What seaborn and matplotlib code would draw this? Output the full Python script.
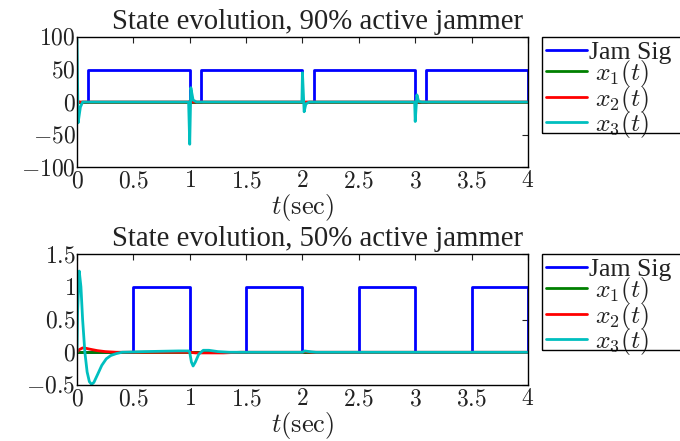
import matplotlib
matplotlib.use("Agg")
import matplotlib.pyplot as plt
from matplotlib.patches import Rectangle
import seaborn as sns

# ---- data ----
# top panel: 90% active jammer
jam90_t = [0, 0.1, 1.0, 1.1, 2.0, 2.1, 3.0, 3.1, 4.0, 4.0]
jam90_v = [0, 50, 0, 50, 0, 50, 0, 50, 0, 0]

x1_90_t = [0, 4]
x1_90_v = [0, 0]

x2_90_t = [0, 0.005, 0.02, 0.99, 1.005, 1.02, 4]
x2_90_v = [0, 2, 0, 0, 1.5, 0, 0]

x3_90_t = [0, 0.01, 0.03, 0.05, 0.99, 1.0, 1.01, 1.03, 1.06,
           1.995, 2.0, 2.015, 2.03, 2.06, 2.995, 3.0, 3.015, 3.03, 3.06, 4]
x3_90_v = [97, -32, -8, 0, 0, -65, 22, 3, 0,
           0, 45, -15, -3, 0, 0, -30, 11, 1, 0, 0]

# bottom panel: 50% active jammer
jam50_t = [0, 0.5, 1.0, 1.5, 2.0, 2.5, 3.0, 3.5, 4.0, 4.0]
jam50_v = [0, 1, 0, 1, 0, 1, 0, 1, 0, 0]

x1_50_t = [0, 4]
x1_50_v = [0, 0]

x2_50_t = [0, 0.02, 0.05, 0.08, 0.12, 0.18, 0.25, 0.35, 1.0, 1.05,
           1.3, 1.45, 2.0, 2.02, 2.08, 4]
x2_50_v = [0, 0.04, 0.066, 0.06, 0.045, 0.025, 0.01, 0, 0, -0.01,
           -0.01, 0, 0, 0.01, 0, 0]

x3_50_t = [0, 0.005, 0.02, 0.035, 0.05, 0.07, 0.09, 0.11, 0.13, 0.15,
           0.18, 0.22, 0.26, 0.3, 0.35, 0.4, 0.6, 0.9, 0.99, 1.0, 1.015,
           1.03, 1.05, 1.08, 1.12, 1.17, 1.25, 1.35, 2.0, 2.02, 2.06,
           2.12, 4]
x3_50_v = [0, 0.6, 1.24, 1.0, 0.5, 0.0, -0.3, -0.45, -0.49, -0.46,
           -0.35, -0.2, -0.1, -0.05, -0.02, 0, 0.01, 0.02, 0.02, 0, -0.15,
           -0.21, -0.15, -0.03, 0.03, 0.03, 0.01, 0, 0, 0.02, 0.01,
           0, 0]

titles = ["State evolution, 90% active jammer",
          "State evolution, 50% active jammer"]
labels = ["Jam Sig", r"$\;x_1(t)$", r"$\;x_2(t)$", r"$\;x_3(t)$"]
colors = ["#0000ff", "#008000", "#ff0000", "#00bfbf"]

xticks = [0, 0.5, 1, 1.5, 2, 2.5, 3, 3.5, 4]
xticklabels = ["$0$", "$0.5$", "$1$", "$1.5$", "$2$", "$2.5$", "$3$",
               "$3.5$", "$4$"]
yticks_90 = [-100, -50, 0, 50, 100]
yticklabels_90 = ["$-100$", "$-50$", "$0$", "$50$", "$100$"]
yticks_50 = [-0.5, 0, 0.5, 1, 1.5]
yticklabels_50 = ["$-0.5$", "$0$", "$0.5$", "$1$", "$1.5$"]

sns.set_style("white")
plt.rcParams["font.family"] = ["Liberation Serif", "DejaVu Serif"]
plt.rcParams["mathtext.fontset"] = "cm"
plt.rcParams["xtick.direction"] = "in"
plt.rcParams["ytick.direction"] = "in"
plt.rcParams["xtick.top"] = True
plt.rcParams["ytick.right"] = True

fig = plt.figure(figsize=(6.8, 4.41), dpi=100)
ax1 = fig.add_axes([0.1132, 0.6213, 0.6632, 0.2948])
ax2 = fig.add_axes([0.1132, 0.1270, 0.6632, 0.2970])

panels = [
    (ax1, [(jam90_t, jam90_v), (x1_90_t, x1_90_v), (x2_90_t, x2_90_v),
           (x3_90_t, x3_90_v)], (-100, 100), yticks_90, yticklabels_90),
    (ax2, [(jam50_t, jam50_v), (x1_50_t, x1_50_v), (x2_50_t, x2_50_v),
           (x3_50_t, x3_50_v)], (-0.5, 1.5), yticks_50, yticklabels_50),
]

# legend frames (MATLAB style boxes running off the right edge)
legend_boxes = [(0.797, 0.6984, 0.2177), (0.797, 0.2063, 0.2177)]

for i, (ax, series, ylim, yt, ytl) in enumerate(panels):
    for j, (t, v) in enumerate(series):
        kw = {"drawstyle": "steps-post"} if j == 0 else {}
        sns.lineplot(x=t, y=v, ax=ax, color=colors[j], lw=2,
                     estimator=None, sort=False, label=labels[j], **kw)
    ax.set_xlim(0, 4)
    ax.set_ylim(*ylim)
    ax.set_xticks(xticks)
    ax.set_xticklabels(xticklabels)
    ax.set_yticks(yt)
    ax.set_yticklabels(ytl)
    ax.tick_params(labelsize=17, length=4, width=0.8, colors="#222222")
    ax.tick_params(axis="y", pad=1)
    ax.tick_params(axis="x", pad=3)
    for s in ax.spines.values():
        s.set_color("black")
        s.set_linewidth(1.0)
    ax.set_xlabel(r"$t(\mathrm{sec})$", fontsize=19, labelpad=0,
                  color="#222222")
    ax.set_ylabel("")
    ax.set_title(titles[i], fontsize=20.7, pad=6, x=0.534, color="#222222")
    leg = ax.legend(loc="upper left", bbox_to_anchor=(1.031, 1.0),
                    fontsize=18.5, frameon=False, handlelength=1.6,
                    handletextpad=0.1, labelspacing=-0.22, borderpad=0.15,
                    borderaxespad=0)
    for txt in leg.get_texts():
        txt.set_color("#222222")
    x0, y0, h = legend_boxes[i]
    fig.patches.append(Rectangle((x0, y0), 0.25, h, transform=fig.transFigure,
                                 fill=False, edgecolor="black", lw=1.0,
                                 figure=fig))

fig.savefig("out.png", dpi=100)
